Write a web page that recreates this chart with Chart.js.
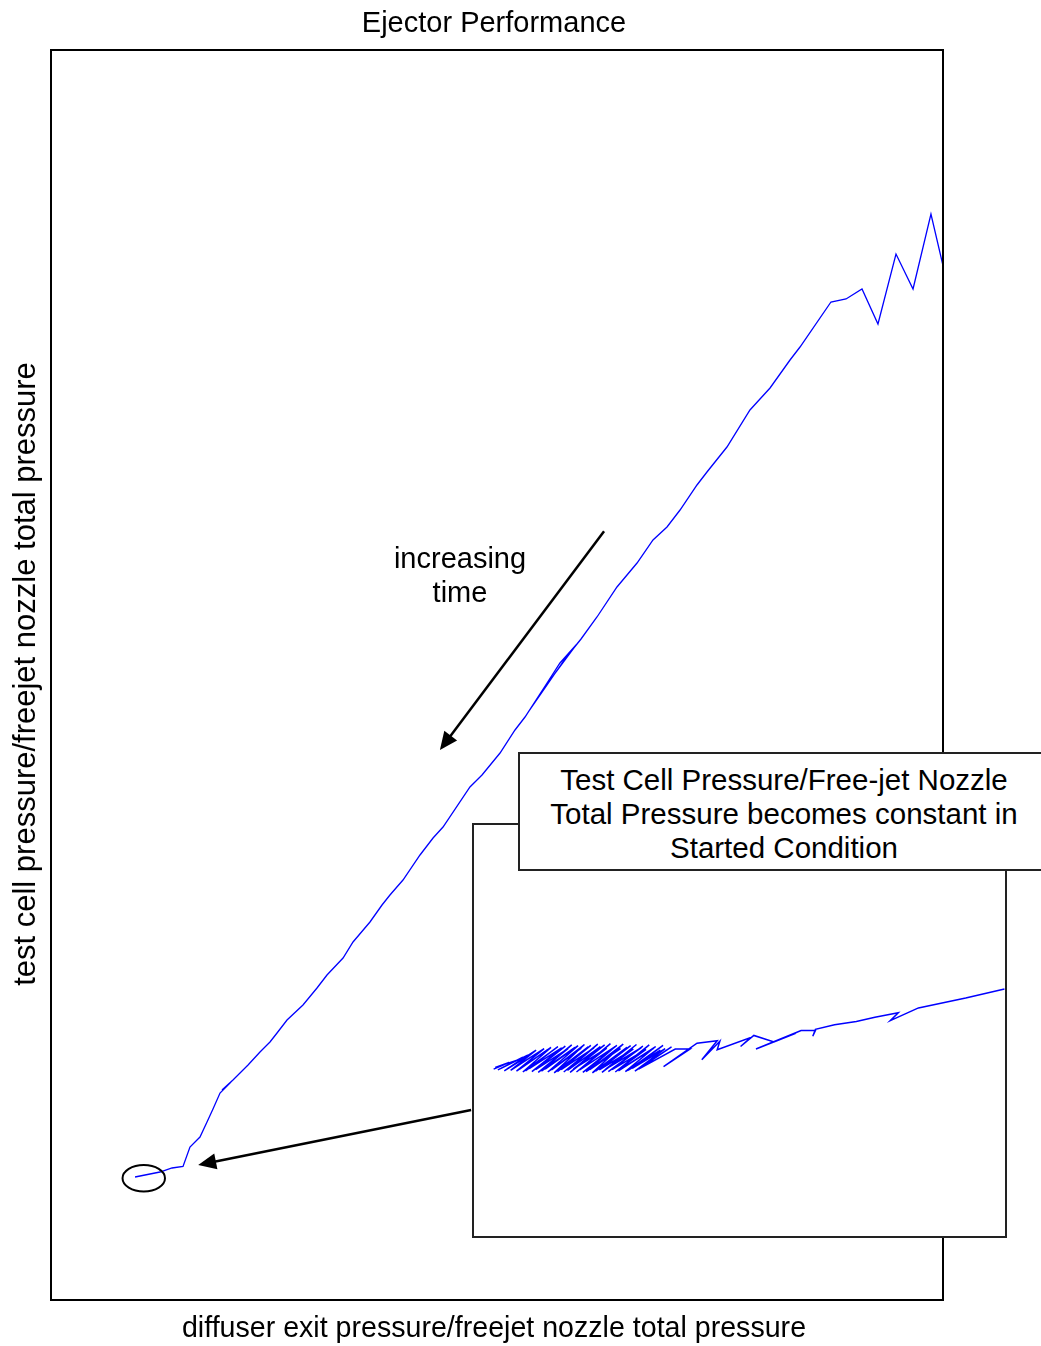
<!DOCTYPE html>
<html>
<head>
<meta charset="utf-8">
<script src="https://cdn.jsdelivr.net/npm/chart.js@4.4.1/dist/chart.umd.min.js"></script>
<style>
  body { margin: 0; background: #fff; font-family: "Liberation Sans", Arial, sans-serif; color: #000; }
  #wrap { position: relative; width: 1041px; height: 1346px; overflow: hidden; }
  #main { position: absolute; left: 0; top: 0; }
  .txt { position: absolute; text-align: center; white-space: nowrap; }
  #title { left: 0; width: 988px; top: 6px; font-size: 29px; line-height: 32px; }
  #xlabel { left: 0; width: 988px; top: 1311px; font-size: 28.6px; line-height: 32px; }
  #ylabel { left: -375px; width: 800px; top: 658px; font-size: 31px; line-height: 32px; transform: rotate(-90deg); }
  #timeText { left: 360px; width: 200px; top: 541px; font-size: 29px; line-height: 34px; }
  #inset { position: absolute; left: 472px; top: 823px; width: 535px; height: 415px; box-sizing: border-box;
           border: 2px solid #222; background: #fff; }
  #callout { position: absolute; left: 518px; top: 752px; width: 532px; height: 119px; box-sizing: border-box;
             border: 2px solid #222; background: #fff; text-align: center; font-size: 29.5px; line-height: 34px;
             padding-top: 9px; white-space: nowrap; }
</style>
</head>
<body>
<div id="wrap">
  <canvas id="main" width="1041" height="1346"></canvas>
  <div class="txt" id="title">Ejector Performance</div>
  <div class="txt" id="xlabel">diffuser exit pressure/freejet nozzle total pressure</div>
  <div class="txt" id="ylabel">test cell pressure/freejet nozzle total pressure</div>
  <div class="txt" id="timeText">increasing<br>time</div>
  <div id="inset"><canvas id="zoomed" width="531" height="411"></canvas></div>
  <div id="callout">Test Cell Pressure/Free-jet Nozzle<br>Total Pressure becomes constant in<br>Started Condition</div>
</div>
<script>
// main trace, axis-relative units (0-100), no tick values on the original
const mainX = [9.42, 12.22, 13.57, 14.80, 15.58, 16.70, 17.49, 18.16, 18.95, 20.18, 19.17, 20.40,
  21.19, 22.09, 23.43, 24.55, 25.34, 26.46, 28.25, 29.82, 30.94, 32.74, 33.86, 35.76, 37.11, 38.00,
  39.46, 41.37, 42.83, 43.95, 46.97, 48.32, 50.34, 52.02, 53.14, 55.61, 57.06, 58.86, 56.61, 54.82,
  53.36, 55.38, 57.62, 59.42, 61.21, 63.45, 65.70, 67.49, 69.06, 70.52, 72.42, 73.54, 75.78, 78.36,
  80.61, 82.85, 83.97, 87.44, 89.13, 90.92, 92.71, 94.73, 96.64, 98.65, 100.00];
const mainY = [9.84, 10.24, 10.56, 10.68, 12.24, 13.04, 14.24, 15.28, 16.56, 17.44, 16.80, 17.60,
  18.16, 18.80, 19.84, 20.64, 21.36, 22.40, 23.60, 24.96, 26.00, 27.36, 28.64, 30.24, 31.60, 32.40,
  33.60, 35.60, 36.96, 37.84, 41.04, 42.00, 43.76, 45.60, 46.64, 49.36, 50.96, 52.40, 50.24, 48.40,
  46.88, 48.96, 51.28, 52.88, 54.64, 57.04, 58.96, 60.80, 61.84, 63.20, 65.20, 66.24, 68.24, 71.20,
  72.96, 75.20, 76.24, 79.84, 80.08, 80.88, 78.08, 83.68, 80.88, 86.88, 82.76];

// inset (blown-up started condition), its own 0-100 units
const zoomX = [99.9, 92.6, 83.7, 78.4, 79.9, 75.5, 72.0, 67.9, 64.3, 63.8, 64.3, 61.6, 53.1, 60.7,
  56.5, 52.7, 50.2, 52.1, 45.8, 46.3, 42.9, 45.8, 42.0, 35.7, 40.7, 37.9,
  31.0, 37.2, 30.3, 36.0, 29.8, 35.6, 29.0, 35.1, 28.5, 34.2, 27.8, 33.9, 27.2, 33.0, 26.6, 32.4,
  26.0, 31.8, 25.3, 31.5, 24.8, 30.6, 24.1, 30.0, 23.6, 29.5, 22.9, 28.8, 22.3, 28.1, 21.8, 27.6,
  21.1, 26.9, 20.5, 26.5, 19.9, 25.7, 19.3, 25.0, 18.7, 24.6, 18.1, 23.8, 17.6, 23.3, 16.9, 22.6,
  16.4, 22.0, 15.7, 21.5, 15.1, 20.8, 14.6, 20.2, 13.9, 19.6, 13.4, 19.0, 12.7, 18.4, 12.1, 17.7,
  11.6, 17.2, 10.9, 16.5, 10.4, 15.8, 9.7, 15.2, 9.2, 14.5, 8.6, 13.8, 8.0, 13.2, 7.4, 12.4,
  6.9, 11.7, 6.3, 10.9, 5.7, 10.1, 5.1, 9.2, 4.5, 8.1, 4.0, 6.6, 3.7];
const zoomY = [60.1, 57.9, 55.5, 52.4, 54.3, 53.2, 52.2, 51.4, 50.3, 48.6, 50.0, 50.0, 45.5, 49.4,
  47.2, 48.8, 46.1, 48.3, 45.3, 47.4, 42.9, 47.5, 46.9, 41.2, 45.5, 45.5,
  40.6, 46.0, 40.1, 45.6, 40.8, 46.4, 40.3, 45.2, 40.0, 46.1, 40.7, 45.7, 40.2, 46.5, 39.9, 45.4,
  40.5, 46.2, 40.0, 45.8, 40.6, 46.6, 39.8, 45.5, 40.4, 46.3, 40.1, 45.9, 39.7, 46.7, 40.5, 45.6,
  40.0, 46.4, 39.8, 46.0, 40.4, 46.8, 39.9, 45.7, 40.6, 46.5, 39.8, 46.1, 40.3, 46.7, 39.9, 45.8,
  40.5, 46.4, 40.0, 46.0, 39.7, 46.6, 40.4, 45.7, 39.9, 46.3, 40.6, 45.9, 40.1, 46.5, 39.8, 45.6,
  40.5, 46.2, 40.0, 45.8, 40.7, 46.1, 40.2, 45.5, 39.9, 45.9, 40.6, 45.3, 40.1, 45.6, 40.8, 44.9,
  40.3, 45.2, 40.7, 44.4, 40.2, 44.0, 40.8, 43.5, 40.4, 42.8, 41.0, 42.2, 40.6];

// annotation anchors, in main chart units
const timeArrow = { x0: 62.0, y0: 61.5, x1: 43.6, y1: 44.0 };
const startArrow = { x0: 47.1, y0: 15.2, x1: 16.5, y1: 10.8 };
const startRing = { x: 10.4, y: 9.74, rx: 2.38, ry: 1.06 };

function toPoints(xs, ys) {
  return xs.map((v, i) => ({ x: v, y: ys[i] }));
}

function drawArrow(ctx, x0, y0, x1, y1) {
  const ang = Math.atan2(y1 - y0, x1 - x0);
  const len = 18, half = 8;
  ctx.beginPath();
  ctx.moveTo(x0, y0);
  ctx.lineTo(x1 - Math.cos(ang) * len * 0.7, y1 - Math.sin(ang) * len * 0.7);
  ctx.stroke();
  ctx.beginPath();
  ctx.moveTo(x1, y1);
  ctx.lineTo(x1 - Math.cos(ang) * len + Math.sin(ang) * half, y1 - Math.sin(ang) * len - Math.cos(ang) * half);
  ctx.lineTo(x1 - Math.cos(ang) * len - Math.sin(ang) * half, y1 - Math.sin(ang) * len + Math.cos(ang) * half);
  ctx.closePath();
  ctx.fill();
}

const frameAndNotes = {
  id: 'frameAndNotes',
  afterDatasetsDraw(chart) {
    const { ctx, chartArea: a, scales: { x, y } } = chart;
    ctx.save();
    ctx.strokeStyle = '#000';
    ctx.fillStyle = '#000';
    ctx.lineWidth = 2;
    ctx.strokeRect(a.left, a.top, a.right - a.left, a.bottom - a.top);

    ctx.lineWidth = 2.5;
    drawArrow(ctx, x.getPixelForValue(timeArrow.x0), y.getPixelForValue(timeArrow.y0),
      x.getPixelForValue(timeArrow.x1), y.getPixelForValue(timeArrow.y1));
    drawArrow(ctx, x.getPixelForValue(startArrow.x0), y.getPixelForValue(startArrow.y0),
      x.getPixelForValue(startArrow.x1), y.getPixelForValue(startArrow.y1));

    const cx = x.getPixelForValue(startRing.x), cy = y.getPixelForValue(startRing.y);
    const rx = x.getPixelForValue(startRing.x + startRing.rx) - cx;
    const ry = cy - y.getPixelForValue(startRing.y + startRing.ry);
    ctx.lineWidth = 2;
    ctx.beginPath();
    ctx.ellipse(cx, cy, rx, ry, 0, 0, Math.PI * 2);
    ctx.stroke();
    ctx.restore();
  }
};

const hiddenAxis = (min, max) => ({ type: 'linear', min: min, max: max, display: false });

new Chart(document.getElementById('main'), {
  type: 'scatter',
  data: {
    datasets: [{
      data: toPoints(mainX, mainY),
      showLine: true,
      borderColor: '#0000ff',
      borderWidth: 1.3,
      pointRadius: 0,
      tension: 0
    }]
  },
  options: {
    responsive: false,
    animation: false,
    devicePixelRatio: 1,
    layout: { padding: { left: 51, right: 98, top: 50, bottom: 46 } },
    scales: { x: hiddenAxis(0, 100), y: hiddenAxis(0, 100) },
    plugins: { legend: { display: false }, tooltip: { enabled: false } }
  },
  plugins: [frameAndNotes]
});

new Chart(document.getElementById('zoomed'), {
  type: 'scatter',
  data: {
    datasets: [{
      data: toPoints(zoomX, zoomY),
      showLine: true,
      borderColor: '#0000ff',
      borderWidth: 1.5,
      pointRadius: 0,
      tension: 0
    }]
  },
  options: {
    responsive: false,
    animation: false,
    devicePixelRatio: 1,
    layout: { padding: 0 },
    scales: { x: hiddenAxis(0, 100), y: hiddenAxis(0, 100) },
    plugins: { legend: { display: false }, tooltip: { enabled: false } }
  }
});
</script>
</body>
</html>
